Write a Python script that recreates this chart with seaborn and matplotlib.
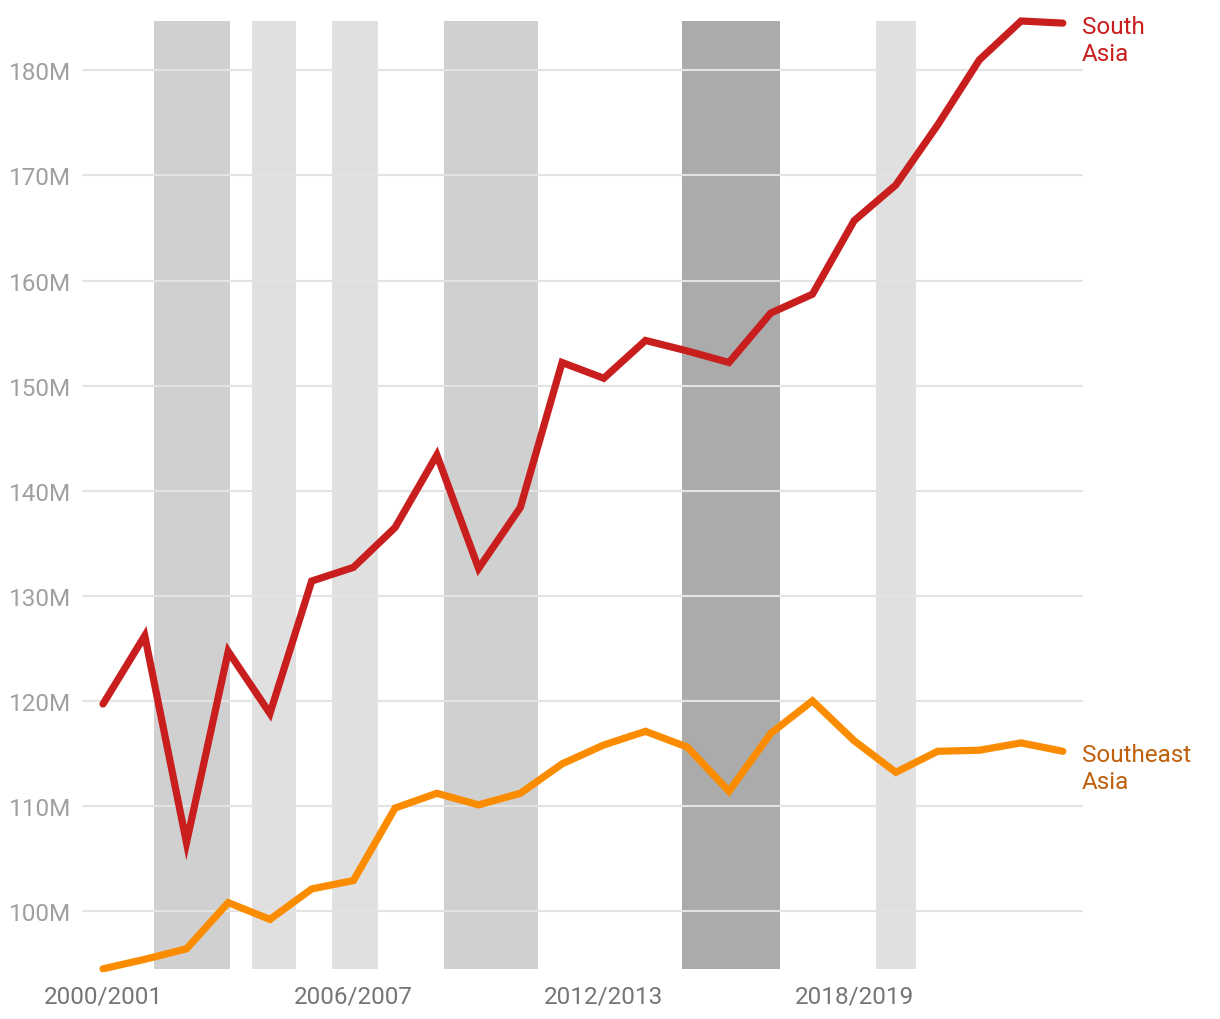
import matplotlib
matplotlib.use("Agg")
import matplotlib.pyplot as plt
import seaborn as sns
import pandas as pd

### population (millions) by season, 2000/2001 .. 2023/2024

seasons = [f"{y}/{y + 1}" for y in range(2000, 2024)]

south_asia = [119.7, 126.2, 106.5, 124.7, 118.8, 131.4, 132.7, 136.5, 143.4, 132.6,
              138.4, 152.2, 150.7, 154.3, 153.3, 152.2, 156.9, 158.7, 165.7, 169.1,
              174.8, 181.0, 184.7, 184.5]
southeast_asia = [94.5, 95.4, 96.4, 100.8, 99.2, 102.1, 102.9, 109.8, 111.2, 110.1,
                  111.2, 114.0, 115.8, 117.1, 115.6, 111.4, 116.9, 120.0, 116.2, 113.2,
                  115.2, 115.3, 116.0, 115.2]

# shaded periods (start, end in season index units) and their shade
band_start = [1.22, 3.57, 5.49, 8.17, 13.87, 18.52]
band_end = [3.04, 4.62, 6.59, 10.42, 16.22, 19.48]
band_color = ["#d0d0d0", "#e0e0e0", "#e0e0e0", "#d0d0d0", "#ababab", "#e0e0e0"]

tick_seasons = ["2000/2001", "2006/2007", "2012/2013", "2018/2019"]
y_ticks = [100, 110, 120, 130, 140, 150, 160, 170, 180]

regions = ["South Asia", "Southeast Asia"]
end_labels = ["South\nAsia", "Southeast\nAsia"]
line_colors = {"South Asia": "#c91e1e", "Southeast Asia": "#fb8c00"}
label_colors = {"South Asia": "#c91e1e", "Southeast Asia": "#c0600c"}

df = pd.DataFrame({
    "idx": list(range(len(seasons))) * 2,
    "season": seasons * 2,
    "value": south_asia + southeast_asia,
    "region": ["South Asia"] * len(seasons) + ["Southeast Asia"] * len(seasons),
})

sns.set_theme(style="white")
plt.rcParams["font.family"] = ["Roboto", "DejaVu Sans"]

fig = plt.figure(figsize=(12.2, 10.2), dpi=100)
ax = fig.add_axes([83 / 1220, 50 / 1020, 999 / 1220, 948 / 1020])

for s, e, c in zip(band_start, band_end, band_color):
    ax.axvspan(s, e, color=c, lw=0, zorder=0)

for y in y_ticks:
    ax.axhline(y, color="#e3e3e3", lw=1.5, zorder=1)

sns.lineplot(data=df, x="idx", y="value", hue="region", palette=line_colors,
             linewidth=5.2, legend=False, ax=ax, zorder=3,
             solid_capstyle="round", solid_joinstyle="miter")
for ln in ax.lines:
    ln.set_clip_on(False)

ax.set_xlim(-0.48, len(seasons) - 1 + 0.46)
ax.set_ylim(94.48, 184.7)

ax.set_xticks([seasons.index(t) for t in tick_seasons])
ax.set_xticklabels(tick_seasons)
ax.set_yticks(y_ticks)
ax.set_yticklabels([f"{v}M" for v in y_ticks])
ax.tick_params(axis="x", colors="#757575", labelsize=17.5, length=0, pad=11)
ax.tick_params(axis="y", colors="#a0a0a0", labelsize=17.5, length=0, pad=8.5)
ax.set_xlabel("")
ax.set_ylabel("")
sns.despine(ax=ax, left=True, bottom=True)

last = len(seasons) - 1
for name, lab, vals in zip(regions, end_labels, [south_asia, southeast_asia]):
    ax.annotate(lab, xy=(last, vals[-1]), xytext=(13.5, 6), textcoords="offset points",
                ha="left", va="top", color=label_colors[name], fontsize=17.5,
                linespacing=1.25, annotation_clip=False)

fig.savefig("out.png", dpi=100)
